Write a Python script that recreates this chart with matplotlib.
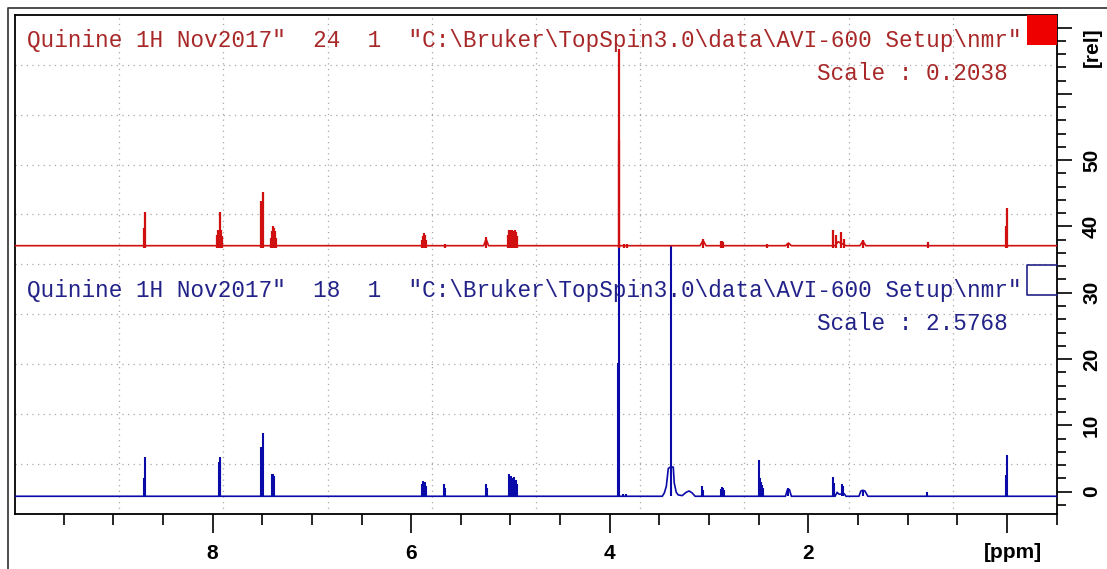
import matplotlib.pyplot as plt
from matplotlib.patches import Rectangle
from matplotlib.lines import Line2D
from matplotlib.ticker import FixedLocator, MultipleLocator

W, H = 1107, 569

# baselines of the two traces on the [rel] scale
blue_base = -0.7
red_base = 37.1

# sharp lines: chemical shift (ppm) and height above baseline
blue_ppm = [8.690, 8.677, 7.935, 7.928, 7.922, 7.513, 7.503, 7.493, 7.397, 7.387, 7.377,
            5.895, 5.885, 5.875, 5.865, 5.855, 5.665, 5.655, 5.250, 5.240,
            5.010, 5.000, 4.990, 4.975, 4.960, 4.945, 4.935,
            3.918, 3.910, 3.870, 3.840, 3.380, 3.070, 3.060,
            2.880, 2.870, 2.860, 2.850, 2.500, 2.485, 2.475, 2.465, 2.455,
            2.200, 1.755, 1.745, 1.665, 1.655, 1.450, 0.800, 0.005, 0.000]
blue_h = [2.7, 5.9, 5.2, 5.0, 5.9, 7.4, 7.0, 9.5, 3.3, 3.3, 3.1,
          1.8, 2.3, 2.0, 2.2, 1.6, 1.9, 1.2, 1.9, 1.2,
          3.3, 3.1, 3.0, 2.8, 2.9, 2.4, 1.8,
          20.1, 37.8, 0.4, 0.4, 37.8, 1.5, 0.9,
          1.1, 1.4, 1.3, 1.0, 5.4, 2.7, 2.2, 1.7, 1.2,
          1.3, 2.9, 2.0, 1.8, 1.5, 0.9, 0.7, 3.2, 6.3]

red_ppm = [8.690, 8.677, 7.955, 7.945, 7.935, 7.930, 7.925, 7.915, 7.905,
           7.513, 7.493, 7.410, 7.400, 7.390, 7.380, 7.370, 7.360,
           5.895, 5.885, 5.875, 5.865, 5.855, 5.660, 5.245,
           5.020, 5.010, 5.000, 4.985, 4.970, 4.955, 4.940, 4.930,
           3.910, 3.902, 3.860, 3.830, 3.060, 2.875, 2.865, 2.855, 2.420, 2.200,
           1.755, 1.720, 1.670, 1.640, 1.450, 0.790, 0.005, 0.000]
red_h = [2.7, 5.1, 1.6, 2.3, 2.4, 5.1, 2.4, 2.3, 1.5,
         6.7, 8.1, 1.2, 2.2, 2.9, 2.6, 2.2, 1.2,
         0.9, 1.5, 1.9, 1.6, 0.9, 0.3, 1.3,
         1.6, 2.4, 2.3, 2.4, 2.2, 2.4, 2.0, 1.4,
         16.0, 29.6, 0.3, 0.3, 1.0, 0.7, 0.7, 0.6, 0.2, 0.4,
         2.4, 1.6, 2.0, 1.0, 0.9, 0.5, 2.9, 5.7]

# broad features drawn as the trace itself
blue_trace_ppm = [10.0, 3.47, 3.45, 3.43, 3.41, 3.39, 3.36, 3.35, 3.33, 3.31, 3.27,
                  3.23, 3.20, 3.17, 3.14, 2.23, 2.21, 2.19, 2.17, 1.73, 1.71, 1.69,
                  1.64, 1.62, 1.49, 1.47, 1.45, 1.43, 1.40, -0.6]
blue_trace_h = [0, 0, 0.5, 1.5, 4.2, 4.4, 4.4, 2.0, 0.6, 0.2, 0.1,
                0.6, 0.8, 0.5, 0, 0, 1.0, 1.0, 0, 0, 0.6, 0.3,
                0.4, 0, 0, 0.8, 0.9, 0.8, 0, 0]
red_trace_ppm = [10.0, 5.27, 5.245, 5.22, 3.09, 3.06, 3.03, 2.23, 2.20, 2.17,
                 1.73, 1.70, 1.62, 1.48, 1.45, 1.42, -0.6]
red_trace_h = [0, 0, 1.0, 0, 0, 0.8, 0, 0, 0.4, 0,
               0, 0.6, 0, 0, 0.7, 0, 0]

red_title = 'Quinine 1H Nov2017"  24  1  "C:\\Bruker\\TopSpin3.0\\data\\AVI-600 Setup\\nmr"'
blue_title = 'Quinine 1H Nov2017"  18  1  "C:\\Bruker\\TopSpin3.0\\data\\AVI-600 Setup\\nmr"'
red_scale = 'Scale : 0.2038'
blue_scale = 'Scale : 2.5768'

x_major = [8, 6, 4, 2, 0]
x_labels = ['8', '6', '4', '2', '']
y_major = [0, 10, 20, 30, 40, 50, 60, 70]
y_labels = ['0', '10', '20', '30', '40', '50', '', '']

RED = '#d01010'
BLUE = '#0a0aa8'

fig = plt.figure(figsize=(W / 100, H / 100), dpi=100)
ax = fig.add_axes([15 / W, 1 - 513.5 / H, (1057 - 15) / W, (513.5 - 15) / H])
ax.set_xlim(9.99, -0.505)
ax.set_ylim(-3.3, 71.9)

# dotted grid, 10 x 10 boxes
for i in range(1, 10):
    f = i / 10
    ax.plot([f, f], [0, 1], transform=ax.transAxes, color='#a8a8a8',
            lw=0.9, ls=(0, (1, 3.5)), zorder=0)
    ax.plot([0, 1], [f, f], transform=ax.transAxes, color='#a8a8a8',
            lw=0.9, ls=(0, (1, 3.5)), zorder=0)

# spectra
ax.plot(blue_trace_ppm, [blue_base + v for v in blue_trace_h], color=BLUE, lw=1.2, zorder=3)
ax.vlines(blue_ppm, blue_base, [blue_base + v for v in blue_h], color=BLUE, lw=1.5, zorder=3)
ax.plot(red_trace_ppm, [red_base + v for v in red_trace_h], color=RED, lw=1.2, zorder=4)
ax.vlines(red_ppm, red_base - 0.3, [red_base + v for v in red_h], color=RED, lw=1.6, zorder=4)

# axes styling
for s in ax.spines.values():
    s.set_linewidth(1.3)
ax.xaxis.set_major_locator(FixedLocator(x_major))
ax.set_xticklabels(x_labels)
ax.xaxis.set_minor_locator(MultipleLocator(0.5))
ax.yaxis.tick_right()
ax.yaxis.set_major_locator(FixedLocator(y_major))
ax.set_yticklabels(y_labels, rotation=90, va='center')
ax.yaxis.set_minor_locator(MultipleLocator(2))
ax.tick_params(axis='x', which='major', direction='out', length=14, width=1.2, pad=8,
               labelsize=15)
ax.tick_params(axis='x', which='minor', direction='out', length=8, width=1.2)
ax.tick_params(axis='y', which='major', direction='out', length=11, width=1.2, pad=7,
               labelsize=15)
ax.tick_params(axis='y', which='minor', direction='out', length=6.5, width=1.2)
for lab in ax.get_xticklabels() + ax.get_yticklabels():
    lab.set_fontweight('bold')
    lab.set_fontfamily('Liberation Sans')

fig.text(1013 / W, 1 - 553 / H, '[ppm]', ha='center', va='center', fontsize=15,
         fontweight='bold', family='Liberation Sans')
fig.text(1092 / W, 1 - 47 / H, '[rel]', ha='center', va='center', fontsize=15,
         fontweight='bold', family='Liberation Sans', rotation=90)

# titles
mono = dict(family='Liberation Mono', fontsize=16.3)
fig.text(27 / W, 1 - 41 / H, red_title, ha='left', va='center', color='#a82828', **mono)
fig.text(1008 / W, 1 - 73 / H, red_scale, ha='right', va='center', color='#a82828', **mono)
fig.text(27 / W, 1 - 291 / H, blue_title, ha='left', va='center', color='#222288', **mono)
fig.text(1008 / W, 1 - 323 / H, blue_scale, ha='right', va='center', color='#222288', **mono)

# spectrum markers in the right corner
fig.add_artist(Rectangle((1027 / W, 1 - 45 / H), 30 / W, 30 / H, transform=fig.transFigure,
                         facecolor='#ee0000', edgecolor='none'))
fig.add_artist(Line2D([1057 / W, 1027 / W, 1027 / W, 1057 / W],
                      [1 - 265 / H, 1 - 265 / H, 1 - 295 / H, 1 - 295 / H],
                      transform=fig.transFigure, color='#222288', lw=1.2))

# outer window frame
fig.add_artist(Line2D([8 / W, 8 / W, 1.0], [0.0, 1 - 8 / H, 1 - 8 / H],
                      transform=fig.transFigure, color='#404040', lw=1.3))

fig.savefig('out.png', dpi=100)
